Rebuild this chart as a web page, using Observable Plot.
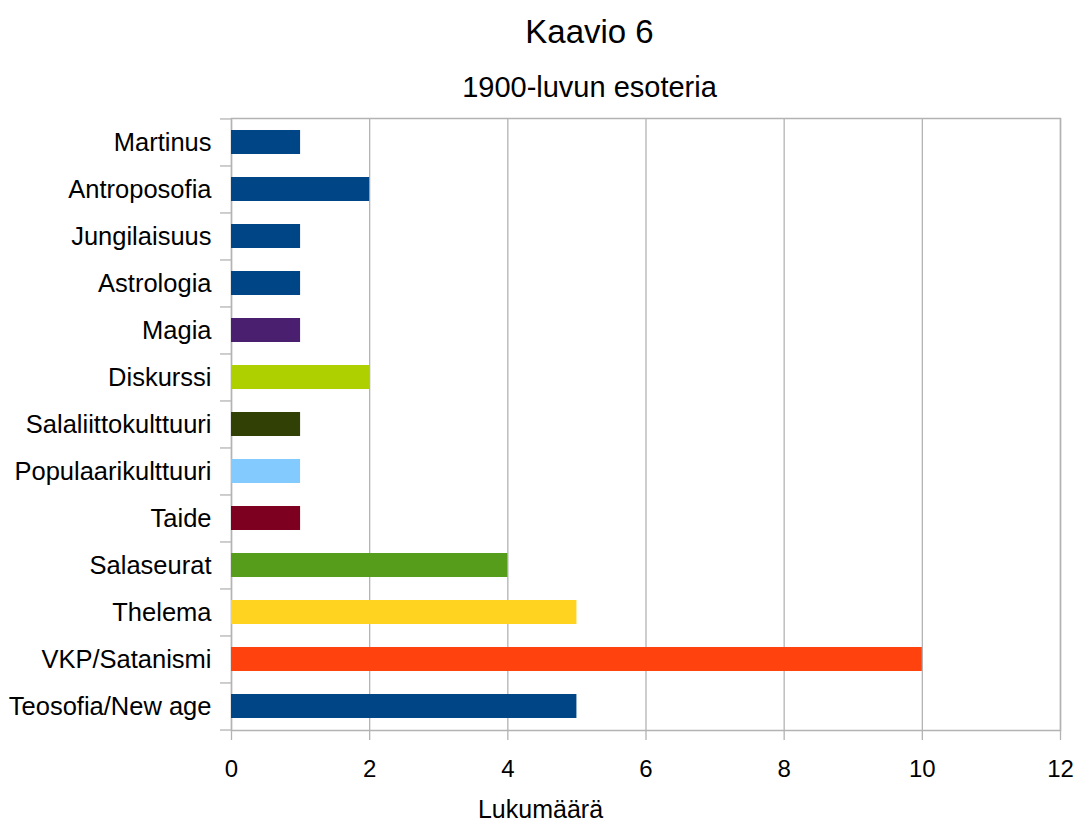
<!DOCTYPE html>
<html>
<head>
<meta charset="utf-8">
<script src="https://cdn.jsdelivr.net/npm/d3@7"></script>
<script src="https://cdn.jsdelivr.net/npm/@observablehq/plot@0.6"></script>
<style>
  html, body { margin: 0; padding: 0; background: #fff; }
  body { width: 1079px; height: 823px; overflow: hidden; font-family: "Liberation Sans", Arial, sans-serif; }
  .title { width: 1079px; box-sizing: border-box; padding-left: 100px; text-align: center; color: #000; }
  #t1 { font-size: 33px; height: 64px; line-height: 64px; }
  #t2 { font-size: 29px; height: 46px; line-height: 46px; }
  svg { display: block; }
</style>
</head>
<body>
<div class="title" id="t1">Kaavio 6</div>
<div class="title" id="t2">1900-luvun esoteria</div>
<div id="chart"></div>
<script>
const categories = ["Martinus", "Antroposofia", "Jungilaisuus", "Astrologia", "Magia", "Diskurssi", "Salaliittokulttuuri", "Populaarikulttuuri", "Taide", "Salaseurat", "Thelema", "VKP/Satanismi", "Teosofia/New age"];
const values = [1, 2, 1, 1, 1, 2, 1, 1, 1, 4, 5, 10, 5];
const colors = ["#004586", "#004586", "#004586", "#004586", "#4B1F6F", "#AECF00", "#314004", "#83CAFF", "#7E0021", "#579D1C", "#FFD320", "#FF420E", "#004586"];
const xTicks = [0, 2, 4, 6, 8, 10, 12];
const xLabel = "Lukumäärä";

const data = categories.map((c, i) => ({cat: c, value: values[i], color: colors[i]}));

const W = 1079, H = 713, mt = 8, mb = 93, ml = 231, mr = 19;
const step = (H - mt - mb) / categories.length;
const grid = "#b3b3b3";

const chart = Plot.plot({
  width: W, height: H,
  marginTop: mt, marginBottom: mb, marginLeft: ml, marginRight: mr,
  style: {fontFamily: "Liberation Sans, Arial, sans-serif", color: "#000", background: "#fff"},
  x: {domain: [0, 12]},
  y: {domain: categories, paddingInner: 0.49, paddingOuter: 0.245},
  color: {type: "identity"},
  marks: [
    Plot.ruleX(xTicks, {stroke: grid, strokeWidth: 1.3}),
    Plot.frame({stroke: grid, strokeWidth: 1.5}),
    Plot.barX(data, {x: "value", y: "cat", fill: "color"}),
    Plot.axisX({ticks: xTicks, tickSize: 10, stroke: grid, strokeWidth: 1.3, text: null, label: null}),
    Plot.axisX({ticks: xTicks, tickSize: 0, tickPadding: 29, fontSize: 24, fill: "#000", label: null}),
    Plot.axisY({ticks: categories, tickSize: 11, stroke: grid, strokeWidth: 1.3, text: null, label: null, dy: -step / 2}),
    Plot.axisY({ticks: [categories[categories.length - 1]], tickSize: 11, stroke: grid, strokeWidth: 1.3, text: null, label: null, dy: step / 2}),
    Plot.axisY({ticks: categories, tickSize: 0, tickPadding: 20, fontSize: 25.5, fill: "#000", label: null}),
    Plot.text([xLabel], {frameAnchor: "bottom", dx: 540 - (ml + (W - ml - mr) / 2), dy: 79, fontSize: 25, fill: "#000", textAnchor: "middle", lineAnchor: "middle"})
  ]
});
document.getElementById("chart").appendChild(chart);
</script>
</body>
</html>
